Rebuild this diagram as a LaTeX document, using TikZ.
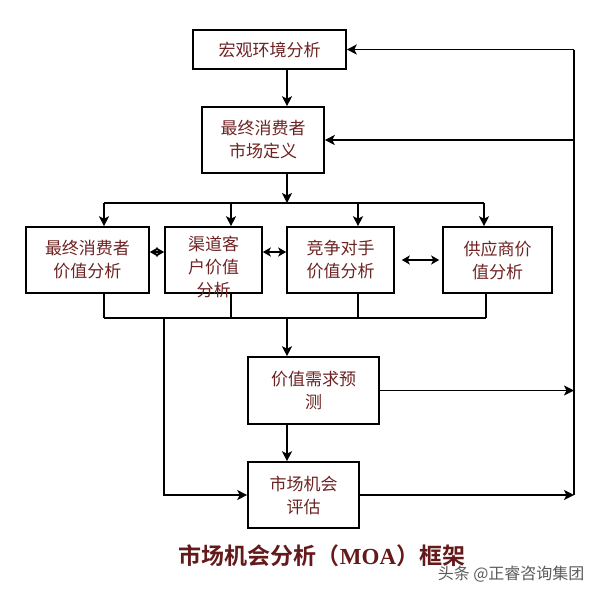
\documentclass[tikz,border=0pt]{standalone}
\usepackage{fontspec}
\setmainfont{Liberation Serif}
\newfontfamily\cjk{Noto Sans CJK SC}[BoldFont={Noto Sans CJK SC Bold}]
\usetikzlibrary{arrows.meta,calc}
\definecolor{moaText}{HTML}{6E2222}
\definecolor{moaTitle}{HTML}{641A1A}
\definecolor{moaMark}{HTML}{5A5A5A}
\begin{document}
\begin{tikzpicture}[x=1pt,y=-1pt,
  bx/.style={draw=black,line width=1.6pt,inner sep=0pt,minimum height=66pt,
             align=center,text=moaText,font=\cjk\fontsize{17}{23}\selectfont},
  ln/.style={line width=1.6pt},
  arr/.style={ln,-{Stealth[length=10pt,width=10pt,inset=2.5pt]}},
  dbl/.style={ln,{Stealth[length=8pt,width=9pt,inset=2pt]}-{Stealth[length=8pt,width=9pt,inset=2pt]}}]
\useasboundingbox (0,0) rectangle (600,595);
\node[bx,minimum width=153pt,minimum height=39pt] (m) at (269.5,49.5) {宏观环境分析};
\node[bx,minimum width=122pt] (d) at (263,140) {最终消费者\\市场定义};

\node[bx,minimum width=123pt] (a) at (87.5,260) {最终消费者\\价值分析};
\node[bx,minimum width=97pt]  (b) at (213.5,260) {};
\node[bx,draw=none,minimum height=0pt,anchor=north] (bt) at (213.5,235) {渠道客\\户价值\\分析};
\node[bx,minimum width=107pt] (c) at (340.5,260) {竞争对手\\价值分析};
\node[bx,minimum width=109pt] (s) at (497.5,260) {供应商价\\值分析};

\node[bx,minimum width=131pt,minimum height=67pt] (e) at (313.5,390.5) {价值需求预\\测};
\node[bx,minimum width=111pt] (f) at (303.5,495) {市场机会\\评估};

\coordinate (sp) at (287,203);
\coordinate (k1) at (104,203);
\coordinate (k2) at (231,203);
\coordinate (k3) at (358,203);
\coordinate (k4) at (484,203);
\coordinate (j1) at (104,318);
\coordinate (j2) at (231,318);
\coordinate (j3) at (358,318);
\coordinate (j4) at (486,318);
\coordinate (lf) at (164,318);
\coordinate (rt) at (574,49.5);

\draw[arr] (m.south -| sp) -- (d.north -| sp);
\draw[arr] (d.south -| sp) -- (sp);
\draw[ln] (k1) -- (k4);
\foreach \i/\n in {1/a,2/b,3/c,4/s} {
  \draw[arr] (k\i) -- (k\i |- \n.north);
  \draw[ln] (\n.south -| j\i) -- (j\i);
}
\draw[ln] (j1) -- (j4);
\draw[arr] (sp |- j1) -- (e.north -| sp);
\draw[arr] (e.south -| sp) -- (f.north -| sp);
\draw[arr] (lf) |- (f.west);
\draw[arr] (e.east) -- (e.east -| rt);
\draw[arr] (f.east) -- (f.east -| rt);
\draw[ln] (f.east -| rt) -- (rt);
\draw[arr] (rt) -- (m.east);
\draw[arr] (rt |- d.east) -- (d.east);

\draw[dbl] ([yshift=8pt]a.east) -- ([yshift=8pt]b.west);
\draw[dbl] ([yshift=8pt]b.east) -- ([yshift=8pt]c.west);
\draw[dbl] ([xshift=7pt]c.east) -- ([xshift=-3pt]s.west);

\node[text=moaTitle,font=\fontsize{23}{27}\selectfont\bfseries] (t) at (322,556) {{\cjk 市场机会分析（}MOA{\cjk ）框架}};
\node[anchor=east,text=moaMark,font=\cjk\fontsize{16}{18}\selectfont] (w) at (588,574) {头条 @正睿咨询集团};
\end{tikzpicture}
\end{document}
